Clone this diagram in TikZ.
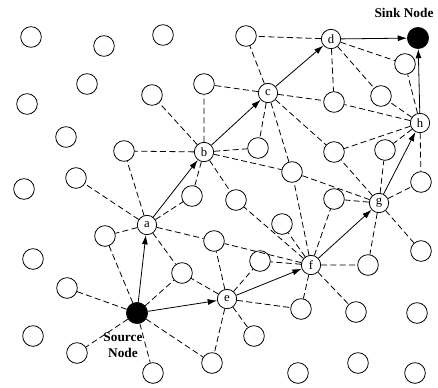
\documentclass[tikz,border=0pt]{standalone}
\usepackage{fontspec}
\setmainfont{Liberation Serif}
\usetikzlibrary{arrows.meta}
\tikzstyle{blank} = [circle, draw=black, line width=0.6pt, minimum size=15.5pt, inner sep=0pt]
\tikzstyle{relay} = [circle, draw=black, line width=0.6pt, minimum size=14.5pt, inner sep=0pt, font=\fontsize{9.5}{11}\selectfont]
\tikzstyle{endpt} = [circle, draw=black, fill=black, minimum size=16pt, inner sep=0pt]
\tikzstyle{link} = [line width=0.6pt, dash pattern=on 4.5pt off 2.5pt]
\tikzstyle{route} = [line width=0.6pt, -{Latex[length=7pt,width=4.5pt]}]
\tikzstyle{tag} = [font=\bfseries\fontsize{10}{12}\selectfont, align=center, inner sep=0pt]

\begin{document}
\begin{tikzpicture}[x=0.75pt, y=-0.75pt]
	\useasboundingbox (0,0) rectangle (438,387);
	% source, sink and the route
	\node[endpt] (src) at (137,313) {};
	\node[endpt] (sink) at (418,38) {};
	\node[tag] (srctext) at (123,345) {Source\\Node};
	\node[tag] (sinktext) at (404,13) {Sink Node};
	\node[relay] (a) at (147,225) {a};
	\node[relay] (b) at (204,152) {b};
	\node[relay] (c) at (268,93) {c};
	\node[relay] (d) at (331,39) {d};
	\node[relay] (e) at (227,299) {e};
	\node[relay] (f) at (311,265) {f};
	\node[relay] (g) at (379,203) {g};
	\node[relay] (h) at (420,123) {h};
	% other nodes
	\node[blank] (n1) at (31,37) {};
	\node[blank] (n2) at (104,46) {};
	\node[blank] (n3) at (163,35) {};
	\node[blank] (n4) at (246,36) {};
	\node[blank] (n5) at (87,84) {};
	\node[blank] (n6) at (152,95) {};
	\node[blank] (n7) at (204,84) {};
	\node[blank] (n8) at (27,104) {};
	\node[blank] (n9) at (66,137) {};
	\node[blank] (n10) at (124,151) {};
	\node[blank] (n11) at (76,178) {};
	\node[blank] (n12) at (24,189) {};
	\node[blank] (n13) at (192,196) {};
	\node[blank] (n14) at (405,64) {};
	\node[blank] (n15) at (334,102) {};
	\node[blank] (n16) at (381,96) {};
	\node[blank] (n17) at (258,148) {};
	\node[blank] (n18) at (334,152) {};
	\node[blank] (n19) at (385,150) {};
	\node[blank] (n20) at (292,172) {};
	\node[blank] (n21) at (421,182) {};
	\node[blank] (n22) at (236,200) {};
	\node[blank] (n23) at (334,199) {};
	\node[blank] (n24) at (282,224) {};
	\node[blank] (n25) at (421,251) {};
	\node[blank] (n26) at (105,236) {};
	\node[blank] (n27) at (214,241) {};
	\node[blank] (n28) at (33,259) {};
	\node[blank] (n29) at (182,273) {};
	\node[blank] (n30) at (260,261) {};
	\node[blank] (n31) at (368,265) {};
	\node[blank] (n32) at (67,288) {};
	\node[blank] (n33) at (301,309) {};
	\node[blank] (n34) at (356,312) {};
	\node[blank] (n35) at (417,313) {};
	\node[blank] (n36) at (33,336) {};
	\node[blank] (n37) at (77,353) {};
	\node[blank] (n38) at (153,373) {};
	\node[blank] (n39) at (212,363) {};
	\node[blank] (n40) at (254,336) {};
	\node[blank] (n41) at (298,373) {};
	\node[blank] (n42) at (358,363) {};
	\node[blank] (n43) at (415,373) {};
	% neighbour links
	\draw[link] (src) -- (n26) (src) -- (n29) (src) -- (n32) (src) -- (n37) (src) -- (n38) (src) -- (n39);
	\draw[link] (a) -- (n10) (a) -- (n11) (a) -- (n26) (a) -- (n13) (a) -- (n27) (a) -- (n29);
	\draw[link] (b) -- (n7) (b) -- (n6) (b) -- (n10) (b) -- (n13) (b) -- (n17) (b) -- (n20) (b) -- (n22);
	\draw[link] (c) -- (n4) (c) -- (n7) (c) -- (n17) (c) -- (n20) (c) -- (n18) (c) -- (n15);
	\draw[link] (d) -- (n4) (d) -- (n15) (d) -- (n16) (d) -- (n14);
	\draw[link] (e) -- (n27) (e) -- (n29) (e) -- (n30) (e) -- (n33) (e) -- (n40) (e) -- (n39);
	\draw[link] (f) -- (n27) (f) -- (n30) (f) -- (n22) (f) -- (n24) (f) -- (n20) (f) -- (n23) (f) -- (n31) (f) -- (n33) (f) -- (n34);
	\draw[link] (g) -- (n19) (g) -- (n21) (g) -- (n25) (g) -- (n31) (g) -- (n18) (g) -- (n20) (g) -- (n23);
	\draw[link] (h) -- (n15) (h) -- (n16) (h) -- (n14) (h) -- (n18) (h) -- (n19) (h) -- (n21);
	% route
	\draw[route] (src) -- (a);
	\draw[route] (a) -- (b);
	\draw[route] (b) -- (c);
	\draw[route] (c) -- (d);
	\draw[route] (d) -- (sink);
	\draw[route] (src) -- (e);
	\draw[route] (e) -- (f);
	\draw[route] (f) -- (g);
	\draw[route] (g) -- (h);
	\draw[route] (h) -- (sink);
\end{tikzpicture}
\end{document}
